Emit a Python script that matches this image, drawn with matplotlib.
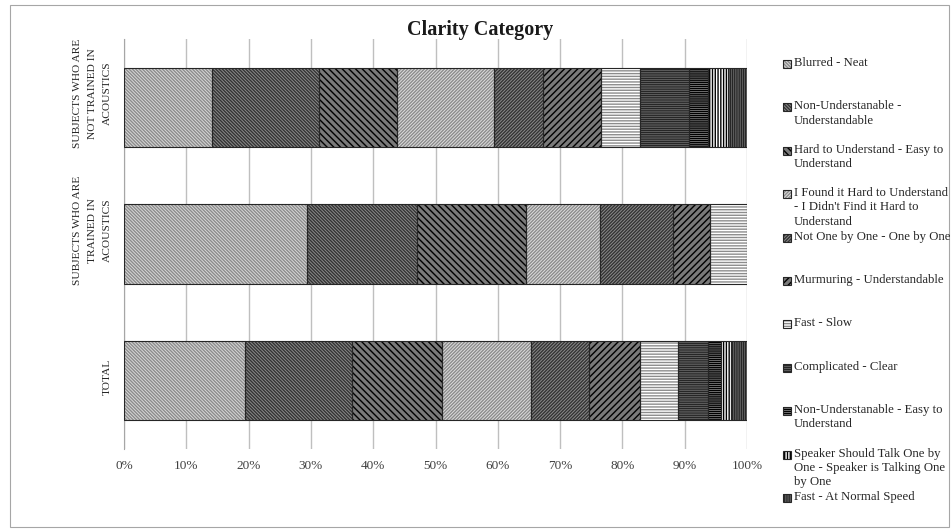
import numpy as np
import matplotlib
matplotlib.use('Agg')
import matplotlib.pyplot as plt
from matplotlib.patches import Rectangle
from matplotlib.transforms import blended_transform_factory

plt.rcParams['font.family'] = ['Liberation Serif', 'DejaVu Serif']
plt.rcParams['hatch.linewidth'] = 1.0

# groups, bottom to top
groups = ['TOTAL',
          'SUBJECTS WHO ARE\nTRAINED IN\nACOUSTICS',
          'SUBJECTS WHO ARE\nNOT TRAINED IN\nACOUSTICS']

answers = ['Blurred - Neat',
           'Non-Understanable -\nUnderstandable',
           'Hard to Understand - Easy to\nUnderstand',
           "I Found it Hard to Understand\n- I Didn't Find it Hard to\nUnderstand",
           'Not One by One - One by One',
           'Murmuring - Understandable',
           'Fast - Slow',
           'Complicated - Clear',
           'Non-Understanable - Easy to\nUnderstand',
           'Speaker Should Talk One by\nOne - Speaker is Talking One\nby One',
           'Fast - At Normal Speed']

# share of answers (%) in the order of `answers`
total = [19.5, 17.1, 14.5, 14.2, 9.3, 8.2, 6.1, 4.9, 2.1, 1.5, 2.6]
trained = [29.4, 17.6, 17.6, 11.8, 11.8, 5.9, 5.9, 0, 0, 0, 0]
not_trained = [14.1, 17.2, 12.5, 15.6, 7.8, 9.4, 6.3, 7.8, 3.1, 3.1, 3.1]

xticks = np.arange(0, 101, 10)

# fill colour, hatch, hatch colour
styles = [('#d9d9d9', '\\' * 10, '#8c8c8c'),
          ('#8c8c8c', '\\' * 10, '#333333'),
          ('#7a7a7a', '\\' * 5, '#000000'),
          ('#dedede', '/' * 10, '#8c8c8c'),
          ('#8c8c8c', '/' * 10, '#333333'),
          ('#7a7a7a', '/' * 5, '#000000'),
          ('#ffffff', '-' * 6, '#8c8c8c'),
          ('#999999', '-' * 9, '#262626'),
          ('#9a9a9a', '-' * 8, '#000000'),
          ('#ffffff', '|' * 6, '#000000'),
          ('#999999', '|' * 9, '#262626')]

W, H = 952, 531


def fx(px):
    return px / W


def fy(py):
    return 1 - py / H


fig = plt.figure(figsize=(W / 100, H / 100), dpi=100)

# thin frame round the whole chart
fig.add_artist(Rectangle((fx(10), fy(527)), fx(939), 522 / H,
                         transform=fig.transFigure, fill=False,
                         edgecolor='#a6a6a6', linewidth=0.8))

ax = fig.add_axes([fx(124), fy(449), fx(623), 410 / H])

values = np.array([total, trained, not_trained])
ypos = np.arange(len(groups))
left = np.zeros(len(groups))
for i, (face, hatch, hcol) in enumerate(styles):
    w = values[:, i]
    keep = w > 0
    ax.barh(ypos[keep], w[keep], left=left[keep], height=0.58, color=face,
            hatch=hatch, edgecolor=hcol, linewidth=0, zorder=2)
    ax.barh(ypos[keep], w[keep], left=left[keep], height=0.58, fill=False,
            edgecolor='#262626', linewidth=0.8, zorder=3)
    left += w

ax.set_xlim(0, 100)
ax.set_ylim(-0.5, 2.5)
ax.set_xticks(xticks)
ax.set_xticklabels([f'{t}%' for t in xticks], fontsize=9.5, color='#404040')
ax.set_yticks(ypos)
ax.set_yticklabels([])
ax.tick_params(axis='x', length=0, pad=8)
ax.tick_params(axis='y', length=0)
ax.grid(axis='x', color='#bfbfbf', linewidth=1, zorder=0)
ax.set_axisbelow(True)
for side in ['top', 'right', 'bottom']:
    ax.spines[side].set_visible(False)
ax.spines['left'].set_color('#a6a6a6')

# group names, rotated, a little above the bar centre when wrapped
label_tr = blended_transform_factory(ax.transAxes, ax.transData)
for y, name in zip(ypos, groups):
    shift = 0.1 if '\n' in name else 0.03
    ax.text(-0.02, y + shift, name, transform=label_tr, rotation=90,
            ha='right', va='center', multialignment='center', fontsize=8.2,
            linespacing=1.8, color='#262626')

fig.text(fx(480), fy(30), 'Clarity Category', ha='center', va='center',
         fontsize=14.5, fontweight='bold', color='#1a1a1a')

# legend on the right, one slot per answer
for i, (label, (face, hatch, hcol)) in enumerate(zip(answers, styles)):
    yc = 64 + 43.4 * i
    fig.add_artist(Rectangle((fx(783), fy(yc + 4)), fx(8), 8 / H,
                             transform=fig.transFigure, facecolor=face,
                             hatch=hatch, edgecolor=hcol, linewidth=0))
    fig.add_artist(Rectangle((fx(783), fy(yc + 4)), fx(8), 8 / H,
                             transform=fig.transFigure, fill=False,
                             edgecolor='#262626', linewidth=0.8))
    fig.text(fx(794), fy(yc - 7), label, ha='left', va='top', fontsize=9.2,
             linespacing=1.25, color='#262626')

fig.savefig('out.png', dpi=100)
